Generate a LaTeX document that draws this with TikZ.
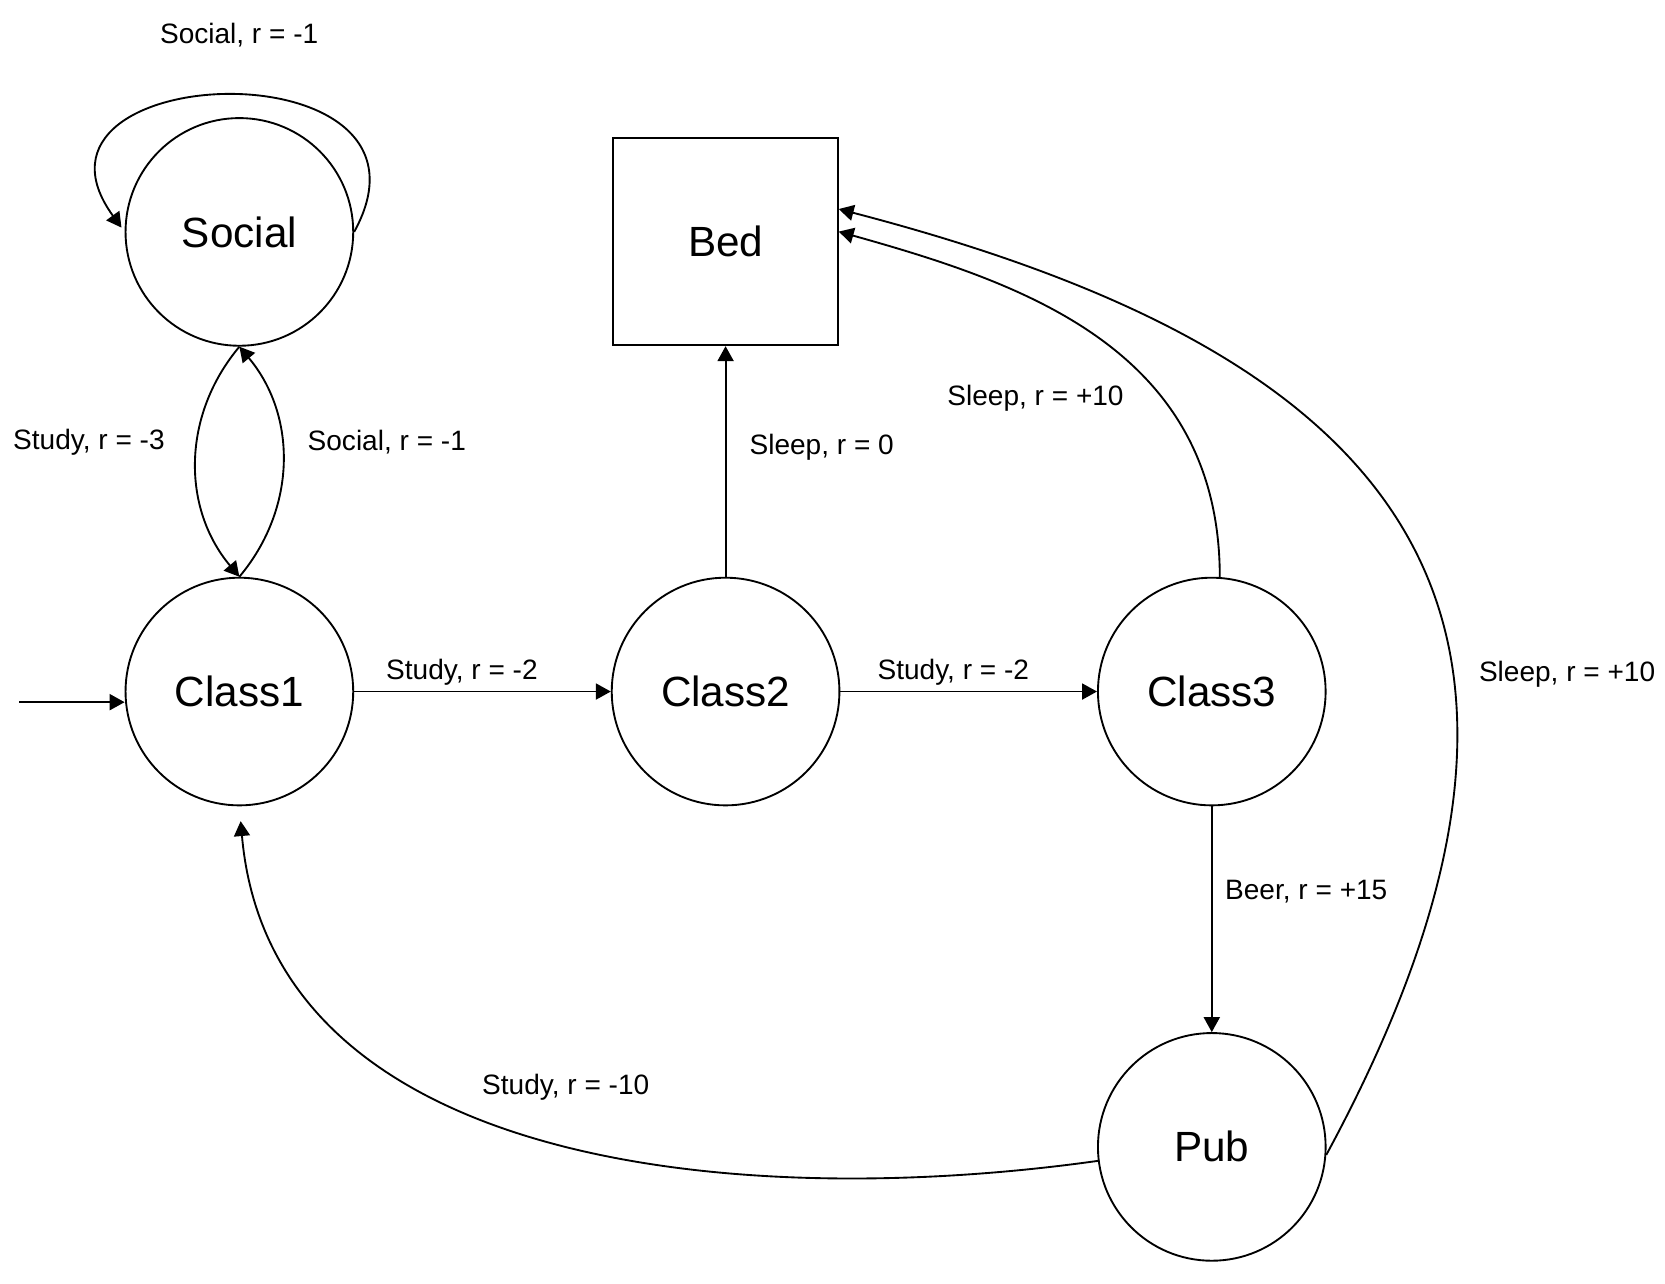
\documentclass[tikz,border=0pt]{standalone}
\usepackage{fontspec}
\setmainfont{Liberation Sans}
\usetikzlibrary{arrows.meta}
\begin{document}
\begin{tikzpicture}[line width=0.5pt,
    >={Triangle[length=0.14cm,width=0.15cm]},
    node distance=4.57cm,
    state/.style={circle,draw,minimum size=2.14cm,inner sep=0pt,font=\fontsize{11.3}{13}\selectfont},
    bedbox/.style={rectangle,draw,minimum width=2.11cm,minimum height=1.95cm,inner sep=0pt,font=\fontsize{11.3}{13}\selectfont},
    lbl/.style={font=\fontsize{7.5}{9}\selectfont}]
  \useasboundingbox (0,0) rectangle (15.65,12.06);
  \path (2.25,5.56) node[state] (class1) {Class1};
  \path node[state,right of=class1] (class2) {Class2};
  \path node[state,right of=class2] (class3) {Class3};
  \path node[state,node distance=4.32cm,above of=class1] (social) {Social};
  \path node[bedbox,node distance=4.23cm,above of=class2] (bed) {Bed};
  \path node[state,node distance=4.28cm,below of=class3] (pub) {Pub};
  \coordinate (start) at (0.18,5.46);

  \begin{scope}[every node/.append style={lbl}]
    \draw[->] (start) -- (start -| class1.west);
    \draw[->] (class1) -- node[above=-0.07cm,pos=0.42] {Study, r = -2} (class2);
    \draw[->] (class2) -- node[above=-0.07cm,pos=0.44] {Study, r = -2} (class3);
    \draw[->] (class2) -- node[right=0.1cm,pos=0.56] {Sleep, r = 0} (bed);
    \draw[->] (class3) -- node[right,pos=0.38] {Beer, r = +15} (pub);
    \draw[->] (social.south) to[bend right=40] node[left=0.18cm,pos=0.42] {Study, r = -3} (class1.north);
    \draw[->] (class1.north) to[bend right=40] node[right=0.12cm,pos=0.58] {Social, r = -1} (social.south);
    \draw[->,shorten >=0.05cm] (social.east) .. controls +(0.98,1.78) and +(-1.18,1.63) .. (social.west)
      node[pos=0.485,above=0.33cm] {Social, r = -1};
    \draw[->] (class3.86) .. controls +(0,2.15) and +(1.71,-0.48) .. (bed.5)
      node[pos=0.33,left=0.24cm] {Sleep, r = +10};
    \draw[->] (pub.-4) .. controls +(2.84,5.25) and +(5.11,-1.33) .. (bed.16)
      node[pos=0.35,right=0.12cm] {Sleep, r = +10};
    \draw[->,shorten >=0.14cm] (pub.187) to[out=188,in=-85] node[above=0.28cm,pos=0.48] {Study, r = -10} (class1.south);
  \end{scope}
\end{tikzpicture}
\end{document}
